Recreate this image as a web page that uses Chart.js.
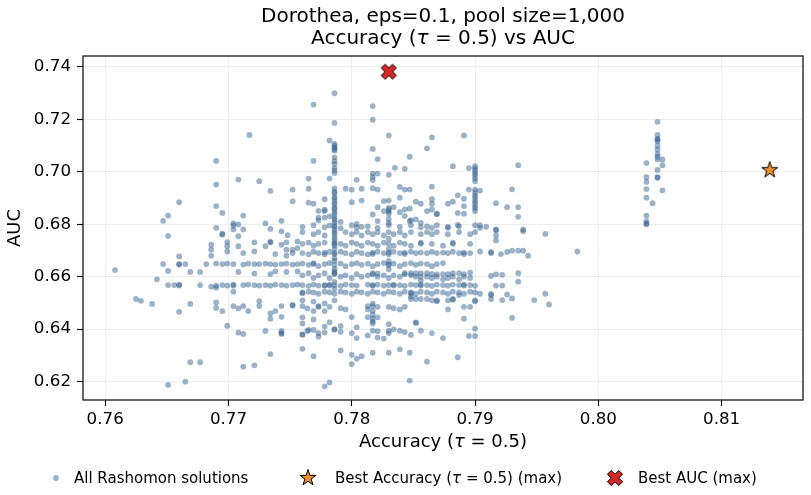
<!DOCTYPE html>
<html>
<head>
<meta charset="utf-8">
<script src="https://cdn.jsdelivr.net/npm/chart.js@4.4.1/dist/chart.umd.min.js"></script>
<style>
  body { margin: 0; background: #fff; }
  canvas { display: block; }
</style>
</head>
<body>
<canvas id="chart" width="811" height="495"></canvas>
<script>
// [accuracy, auc] pairs, grouped by region
const leftSolutions = [
  [0.7717,0.7140],[0.7690,0.7041],[0.7708,0.6970],[0.7725,0.6964],[0.7734,0.6927],[0.7752,0.6932],
  [0.7690,0.6951],[0.7690,0.6869],[0.7660,0.6884],[0.7651,0.6833],[0.7647,0.6813],[0.7695,0.6843],
  [0.7712,0.6833],[0.7752,0.6887],[0.7743,0.6813],[0.7730,0.6803],[0.7704,0.6803],[0.7708,0.6799],
  [0.7704,0.6795],[0.7651,0.6755],[0.7690,0.6786],[0.7695,0.6764],[0.7695,0.6760],[0.7704,0.6780],
  [0.7712,0.6780],[0.7734,0.6782],[0.7743,0.6773],[0.7748,0.6758],
  [0.7686,0.6722],[0.7686,0.6703],[0.7686,0.6680],[0.7699,0.6732],[0.7699,0.6716],[0.7699,0.6696],
  [0.7708,0.6754],[0.7708,0.6716],[0.7712,0.6690],[0.7721,0.6731],[0.7721,0.6696],[0.7730,0.6716],
  [0.7734,0.6731],[0.7734,0.6733],[0.7738,0.6686],[0.7743,0.6722],[0.7747,0.6731],[0.7747,0.6703],
  [0.7747,0.6680],[0.7752,0.6703],[0.7752,0.6690],[0.7756,0.6734],[0.7756,0.6709],[0.7660,0.6677],
  [0.7647,0.6648],[0.7660,0.6648],[0.7660,0.6646],[0.7665,0.6648],[0.7682,0.6648],[0.7690,0.6650],
  [0.7695,0.6648],[0.7699,0.6650],[0.7704,0.6648],[0.7712,0.6646],[0.7716,0.6650],[0.7721,0.6648],
  [0.7725,0.6648],[0.7730,0.6650],[0.7734,0.6648],[0.7738,0.6646],[0.7743,0.6648],[0.7747,0.6650],
  [0.7752,0.6646],[0.7756,0.6648],
  [0.7608,0.6625],[0.7651,0.6622],[0.7669,0.6618],[0.7677,0.6618],[0.7708,0.6618],[0.7721,0.6612],
  [0.7734,0.6610],[0.7738,0.6620],[0.7747,0.6618],[0.7756,0.6620],[0.7642,0.6590],
  [0.7651,0.6568],[0.7656,0.6568],[0.7660,0.6570],[0.7660,0.6566],[0.7677,0.6568],[0.7686,0.6562],
  [0.7690,0.6566],[0.7695,0.6568],[0.7699,0.6566],[0.7704,0.6570],[0.7704,0.6566],[0.7712,0.6568],
  [0.7716,0.6570],[0.7721,0.6568],[0.7725,0.6566],[0.7730,0.6568],[0.7734,0.6566],[0.7738,0.6570],
  [0.7743,0.6568],[0.7747,0.6566],[0.7752,0.6568],[0.7756,0.6570],
  [0.7704,0.6543],[0.7690,0.6558],[0.7625,0.6515],[0.7629,0.6508],[0.7638,0.6496],[0.7669,0.6496],
  [0.7660,0.6466],[0.7690,0.6502],[0.7690,0.6481],[0.7695,0.6469],[0.7704,0.6488],[0.7708,0.6479],
  [0.7712,0.6488],[0.7716,0.6469],[0.7725,0.6507],[0.7725,0.6488],[0.7734,0.6460],[0.7734,0.6440],
  [0.7738,0.6469],[0.7743,0.6488],[0.7743,0.6447],[0.7752,0.6492],[0.7752,0.6490],
  [0.7699,0.6413],[0.7708,0.6387],[0.7712,0.6382],[0.7730,0.6393],[0.7743,0.6393],[0.7743,0.6382],
  [0.7743,0.6385],[0.7734,0.6305],[0.7669,0.6274],[0.7677,0.6274],[0.7712,0.6257],[0.7721,0.6262],
  [0.7651,0.6188],[0.7665,0.6200]
];

const upperSolutions = [
  [0.7786,0.7299],[0.7769,0.7256],[0.7817,0.7250],[0.7817,0.7198],[0.7786,0.7186],[0.7830,0.7138],
  [0.7865,0.7131],[0.7891,0.7138],[0.7782,0.7119],
  [0.7786,0.7106],[0.7786,0.7099],[0.7786,0.7092],[0.7786,0.7086],[0.7786,0.7080],[0.7786,0.7055],
  [0.7786,0.7040],[0.7786,0.7030],[0.7786,0.7015],[0.7786,0.7005],[0.7786,0.6995],
  [0.7817,0.7087],[0.7861,0.7089],[0.7847,0.7057],[0.7821,0.7048],[0.7769,0.7041],
  [0.7835,0.7015],[0.7843,0.7011],[0.7882,0.7021],[0.7895,0.7014],
  [0.7900,0.7021],[0.7900,0.7012],[0.7900,0.7004],[0.7900,0.6994],[0.7900,0.6986],[0.7900,0.6975],
  [0.7900,0.6964],[0.7935,0.7025],
  [0.7817,0.6993],[0.7817,0.6980],[0.7817,0.6968],[0.7821,0.6993],[0.7830,0.6988],[0.7782,0.6974],
  [0.7765,0.6974],[0.7765,0.6935],
  [0.7786,0.6936],[0.7786,0.6924],[0.7786,0.6917],[0.7786,0.6903],[0.7786,0.6896],[0.7786,0.6884],
  [0.7786,0.6876],[0.7786,0.6863],[0.7786,0.6857],[0.7786,0.6845],[0.7786,0.6836],[0.7786,0.6824],
  [0.7786,0.6816],[0.7786,0.6806],
  [0.7795,0.6935],[0.7800,0.6932],[0.7808,0.6935],[0.7817,0.6937],[0.7821,0.6932],[0.7839,0.6942],
  [0.7843,0.6932],[0.7847,0.6932],[0.7865,0.6943],[0.7804,0.6969],
  [0.7895,0.6932],[0.7900,0.6932],[0.7900,0.6921],[0.7900,0.6909],[0.7900,0.6901],[0.7900,0.6889],
  [0.7900,0.6881],[0.7900,0.6869],[0.7900,0.6861],[0.7900,0.6850],[0.7904,0.6928],[0.7930,0.6933],
  [0.7778,0.6895],[0.7778,0.6850],[0.7778,0.6855],[0.7765,0.6882],[0.7769,0.6878],[0.7800,0.6884],
  [0.7808,0.6890],[0.7826,0.6888],[0.7830,0.6890],[0.7830,0.6862],[0.7830,0.6855],[0.7830,0.6848],
  [0.7830,0.6840],[0.7839,0.6901],[0.7847,0.6860],[0.7843,0.6856],[0.7852,0.6886],[0.7856,0.6878],
  [0.7865,0.6895],[0.7865,0.6878],[0.7865,0.6856],[0.7869,0.6840],[0.7869,0.6838],[0.7861,0.6850],
  [0.7878,0.6878],[0.7882,0.6886],[0.7886,0.6910],[0.7891,0.6897],[0.7891,0.6869],[0.7886,0.6843],
  [0.7891,0.6840],[0.7917,0.6880],[0.7926,0.6865],[0.7935,0.6865],[0.7935,0.6828],[0.7821,0.6865],
  [0.7826,0.6850],[0.7817,0.6837],[0.7834,0.6865],[0.7839,0.6846],[0.7843,0.6831],[0.7847,0.6812],
  [0.7852,0.6818],[0.7848,0.6815],[0.7773,0.6851],[0.7773,0.6825],[0.7778,0.6825],[0.7773,0.6814],
  [0.7782,0.6830],[0.7791,0.6809],[0.7804,0.6801],[0.7808,0.6790],[0.7821,0.6812],[0.7830,0.6805],
  [0.7830,0.6820],[0.7856,0.6805],[0.7878,0.6790],[0.7886,0.6797],[0.7904,0.6796],[0.7909,0.6790],
  [0.7917,0.6780],[0.7939,0.6780]
];

const coreSolutions = [
  // ~0.679
  [0.7760,0.6790],[0.7769,0.6796],[0.7778,0.6788],[0.7782,0.6795],[0.7786,0.6790],[0.7791,0.6785],
  [0.7800,0.6796],[0.7804,0.6788],[0.7813,0.6792],[0.7821,0.6786],[0.7830,0.6796],[0.7839,0.6790],
  [0.7848,0.6796],[0.7856,0.6788],[0.7861,0.6792],[0.7865,0.6786],[0.7869,0.6796],[0.7878,0.6786],
  [0.7887,0.6792],[0.7900,0.6796],[0.7904,0.6786],[0.7786,0.6795],[0.7786,0.6780],
  // ~0.6765
  [0.7760,0.6770],[0.7769,0.6762],[0.7773,0.6770],[0.7778,0.6757],[0.7786,0.6770],[0.7786,0.6762],
  [0.7795,0.6770],[0.7800,0.6762],[0.7804,0.6770],[0.7808,0.6757],[0.7813,0.6770],[0.7817,0.6762],
  [0.7821,0.6770],[0.7826,0.6757],[0.7830,0.6770],[0.7834,0.6762],[0.7839,0.6770],[0.7843,0.6757],
  [0.7848,0.6770],[0.7856,0.6762],[0.7861,0.6770],[0.7865,0.6762],[0.7869,0.6770],[0.7878,0.6762],
  [0.7887,0.6770],[0.7896,0.6762],[0.7900,0.6770],[0.7786,0.6750],[0.7786,0.6740],[0.7830,0.6745],
  // ~0.6725
  [0.7760,0.6725],[0.7765,0.6730],[0.7769,0.6718],[0.7773,0.6725],[0.7778,0.6730],[0.7786,0.6725],
  [0.7786,0.6718],[0.7786,0.6730],[0.7791,0.6725],[0.7795,0.6718],[0.7800,0.6730],[0.7804,0.6725],
  [0.7808,0.6718],[0.7813,0.6730],[0.7817,0.6725],[0.7821,0.6718],[0.7826,0.6730],[0.7830,0.6725],
  [0.7834,0.6718],[0.7839,0.6730],[0.7843,0.6725],[0.7848,0.6718],[0.7856,0.6725],[0.7856,0.6730],
  [0.7865,0.6725],[0.7874,0.6718],[0.7882,0.6725],[0.7882,0.6730],[0.7896,0.6725],[0.7786,0.6705],
  [0.7830,0.6705],
  // ~0.669
  [0.7760,0.6690],[0.7765,0.6685],[0.7769,0.6695],[0.7773,0.6690],[0.7778,0.6685],[0.7778,0.6692],
  [0.7782,0.6695],[0.7786,0.6690],[0.7786,0.6686],[0.7791,0.6695],[0.7795,0.6690],[0.7800,0.6685],
  [0.7804,0.6695],[0.7808,0.6690],[0.7813,0.6685],[0.7817,0.6692],[0.7817,0.6686],[0.7821,0.6695],
  [0.7826,0.6690],[0.7830,0.6692],[0.7830,0.6685],[0.7834,0.6695],[0.7839,0.6690],[0.7843,0.6692],
  [0.7843,0.6686],[0.7848,0.6695],[0.7852,0.6690],[0.7856,0.6692],[0.7861,0.6690],[0.7865,0.6695],
  [0.7869,0.6690],[0.7874,0.6692],[0.7878,0.6690],[0.7882,0.6695],[0.7887,0.6690],[0.7891,0.6692],
  [0.7891,0.6686],[0.7896,0.6690],[0.7786,0.6670],[0.7830,0.6660],[0.7786,0.6660],
  // ~0.6648
  [0.7760,0.6650],[0.7765,0.6645],[0.7769,0.6648],[0.7769,0.6652],[0.7773,0.6640],[0.7778,0.6648],
  [0.7782,0.6652],[0.7786,0.6645],[0.7791,0.6650],[0.7795,0.6640],[0.7800,0.6648],[0.7804,0.6652],
  [0.7808,0.6645],[0.7813,0.6650],[0.7817,0.6640],[0.7821,0.6648],[0.7826,0.6652],[0.7830,0.6648],
  [0.7830,0.6644],[0.7834,0.6650],[0.7839,0.6640],[0.7843,0.6648],[0.7848,0.6652],[0.7852,0.6645],
  [0.7856,0.6650],[0.7861,0.6648],[0.7865,0.6640],[0.7869,0.6648],[0.7874,0.6652],[0.7786,0.6630],
  [0.7830,0.6628],[0.7786,0.6620],
  // ~0.660
  [0.7760,0.6605],[0.7765,0.6613],[0.7769,0.6595],[0.7773,0.6605],[0.7778,0.6613],[0.7782,0.6595],
  [0.7786,0.6613],[0.7786,0.6610],[0.7791,0.6600],[0.7795,0.6605],[0.7800,0.6595],[0.7804,0.6610],
  [0.7808,0.6600],[0.7813,0.6605],[0.7817,0.6613],[0.7817,0.6609],[0.7821,0.6612],[0.7821,0.6600],
  [0.7826,0.6605],[0.7830,0.6595],[0.7834,0.6605],[0.7839,0.6600],[0.7843,0.6613],[0.7843,0.6609],
  [0.7848,0.6613],[0.7848,0.6605],[0.7852,0.6613],[0.7852,0.6600],[0.7856,0.6613],[0.7856,0.6600],
  [0.7856,0.6585],[0.7861,0.6613],[0.7861,0.6600],[0.7865,0.6610],[0.7865,0.6595],[0.7869,0.6609],
  [0.7869,0.6600],[0.7874,0.6610],[0.7874,0.6590],[0.7878,0.6610],[0.7878,0.6595],[0.7882,0.6613],
  [0.7882,0.6600],[0.7887,0.6613],[0.7887,0.6590],[0.7891,0.6610],[0.7891,0.6600],[0.7896,0.6615],
  [0.7896,0.6595],[0.7786,0.6580],
  // ~0.6568
  [0.7760,0.6568],[0.7765,0.6565],[0.7769,0.6570],[0.7773,0.6566],[0.7778,0.6568],[0.7778,0.6565],
  [0.7782,0.6570],[0.7782,0.6566],[0.7786,0.6568],[0.7791,0.6565],[0.7795,0.6570],[0.7800,0.6568],
  [0.7804,0.6566],[0.7813,0.6570],[0.7817,0.6568],[0.7817,0.6565],[0.7821,0.6570],[0.7826,0.6566],
  [0.7830,0.6568],[0.7834,0.6570],[0.7834,0.6566],[0.7839,0.6568],[0.7843,0.6565],[0.7848,0.6570],
  [0.7852,0.6568],[0.7856,0.6570],[0.7856,0.6566],[0.7861,0.6568],[0.7865,0.6565],[0.7869,0.6570],
  [0.7874,0.6568],[0.7878,0.6566],[0.7882,0.6570],[0.7887,0.6568],[0.7891,0.6570],[0.7891,0.6566],
  [0.7896,0.6568],[0.7900,0.6565],[0.7786,0.6555],
  // ~0.654
  [0.7760,0.6540],[0.7760,0.6537],[0.7765,0.6543],[0.7769,0.6540],[0.7773,0.6535],[0.7778,0.6543],
  [0.7782,0.6540],[0.7786,0.6535],[0.7791,0.6543],[0.7795,0.6540],[0.7800,0.6535],[0.7804,0.6543],
  [0.7808,0.6540],[0.7813,0.6535],[0.7817,0.6543],[0.7821,0.6540],[0.7826,0.6535],[0.7830,0.6543],
  [0.7834,0.6540],[0.7839,0.6535],[0.7843,0.6543],[0.7848,0.6540],[0.7848,0.6537],[0.7852,0.6535],
  [0.7856,0.6543],[0.7861,0.6540],[0.7865,0.6535],[0.7869,0.6543],[0.7874,0.6540],[0.7878,0.6535],
  [0.7882,0.6543],[0.7887,0.6540],[0.7891,0.6535],[0.7896,0.6543],[0.7900,0.6540],[0.7904,0.6535],
  // ~0.650
  [0.7760,0.6510],[0.7760,0.6488],[0.7769,0.6505],[0.7773,0.6485],[0.7778,0.6498],[0.7782,0.6485],
  [0.7786,0.6510],[0.7791,0.6480],[0.7795,0.6475],[0.7813,0.6488],[0.7813,0.6475],[0.7817,0.6497],
  [0.7817,0.6470],[0.7817,0.6455],[0.7817,0.6488],[0.7817,0.6440],[0.7817,0.6430],[0.7821,0.6485],
  [0.7830,0.6485],[0.7834,0.6480],[0.7839,0.6475],[0.7843,0.6485],[0.7848,0.6525],[0.7848,0.6515],
  [0.7852,0.6515],[0.7856,0.6515],[0.7861,0.6515],[0.7865,0.6510],[0.7869,0.6510],[0.7869,0.6506],
  [0.7878,0.6510],[0.7878,0.6475],[0.7882,0.6515],[0.7882,0.6512],[0.7887,0.6530],[0.7891,0.6485],
  [0.7891,0.6440],[0.7896,0.6485],[0.7900,0.6510],[0.7900,0.6506],
  [0.7764,0.6479],[0.7769,0.6469],[0.7773,0.6488],[0.7778,0.6469],[0.7760,0.6445]
];

const lowerSolutions = [
  [0.7760,0.6422],[0.7769,0.6437],[0.7782,0.6426],[0.7800,0.6446],[0.7804,0.6407],[0.7813,0.6446],
  [0.7817,0.6422],[0.7821,0.6445],[0.7830,0.6419],[0.7852,0.6426],[0.7852,0.6423],
  [0.7760,0.6380],[0.7765,0.6397],[0.7769,0.6397],[0.7773,0.6385],[0.7778,0.6410],[0.7786,0.6400],
  [0.7786,0.6398],[0.7791,0.6412],[0.7791,0.6390],[0.7800,0.6385],[0.7804,0.6366],[0.7813,0.6376],
  [0.7817,0.6394],[0.7821,0.6392],[0.7821,0.6368],[0.7826,0.6364],[0.7830,0.6394],[0.7830,0.6385],
  [0.7834,0.6399],[0.7839,0.6394],[0.7843,0.6389],[0.7848,0.6378],[0.7856,0.6394],[0.7865,0.6385],
  [0.7874,0.6366],[0.7764,0.6393],[0.7773,0.6371],[0.7778,0.6387],[0.7760,0.6379],
  [0.7886,0.6293],[0.7861,0.6276],[0.7847,0.6310],[0.7847,0.6204],[0.7839,0.6323],[0.7830,0.6310],
  [0.7817,0.6310],[0.7808,0.6297],[0.7804,0.6287],[0.7800,0.6302],[0.7800,0.6267],[0.7791,0.6319],
  [0.7769,0.6297],[0.7760,0.6325],[0.7778,0.6182],[0.7782,0.6197],[0.7900,0.6402],[0.7900,0.6374],
  [0.7895,0.6374],[0.7930,0.6443]
];

const rightSolutions = [
  [0.7917,0.6777],[0.7917,0.6757],[0.7917,0.6738],[0.7939,0.6773],[0.7957,0.6763],[0.7935,0.6699],
  [0.7921,0.6686],[0.7926,0.6694],[0.7930,0.6699],[0.7939,0.6699],[0.7943,0.6680],[0.7913,0.6694],
  [0.7913,0.6690],[0.7904,0.6696],[0.7935,0.6613],[0.7935,0.6581],[0.7913,0.6603],[0.7917,0.6609],
  [0.7922,0.6607],[0.7917,0.6566],[0.7922,0.6566],[0.7913,0.6534],[0.7913,0.6530],[0.7913,0.6515],
  [0.7922,0.6511],[0.7926,0.6532],[0.7930,0.6517],[0.7948,0.6511],[0.7957,0.6535],[0.7960,0.6494],
  [0.7983,0.6696]
];

const clusterSolutions = [
  [0.8048,0.7190],[0.8048,0.7140],[0.8048,0.7125],[0.8048,0.7122],[0.8048,0.7116],[0.8048,0.7099],
  [0.8048,0.7084],[0.8048,0.7067],[0.8048,0.7057],[0.8048,0.7047],[0.8052,0.7047],[0.8052,0.7025],
  [0.8048,0.7007],[0.8048,0.6979],[0.8048,0.6977],[0.8052,0.6929],[0.8039,0.7033],[0.8039,0.6979],
  [0.8039,0.6961],[0.8039,0.6934],[0.8039,0.6901],[0.8044,0.6880],[0.8039,0.6833],[0.8039,0.6812],
  [0.8039,0.6803],[0.8039,0.6799]
];

const bestAccuracy = [[0.8139, 0.7006]];
const bestAuc = [[0.7830, 0.7381]];

const accuracyTicks = [0.76, 0.77, 0.78, 0.79, 0.80, 0.81];
const aucTicks = [0.62, 0.64, 0.66, 0.68, 0.70, 0.72, 0.74];

const FONT = "'DejaVu Sans', sans-serif";
const DOT = 'rgba(47,94,142,0.48)';

function toPoints(list) {
  return list.map(([x, y]) => ({ x, y }));
}

function makeStar(size) {
  const c = document.createElement('canvas');
  c.width = c.height = size;
  const g = c.getContext('2d');
  const m = size / 2, ro = size / 2 - 1.5, ri = ro * 0.382;
  g.beginPath();
  for (let i = 0; i < 10; i++) {
    const r = i % 2 ? ri : ro;
    const a = -Math.PI / 2 + i * Math.PI / 5;
    g.lineTo(m + r * Math.cos(a), m + r * Math.sin(a));
  }
  g.closePath();
  g.fillStyle = '#f28e2b';
  g.fill();
  g.lineWidth = 1;
  g.strokeStyle = '#000';
  g.stroke();
  return c;
}

function makeCross(size) {
  const c = document.createElement('canvas');
  c.width = c.height = size;
  const g = c.getContext('2d');
  const L = 8, w = 16 / 6;
  const pts = [[-w,-L],[w,-L],[w,-w],[L,-w],[L,w],[w,w],[w,L],[-w,L],[-w,w],[-L,w],[-L,-w],[-w,-w]];
  const k = Math.SQRT1_2, m = size / 2;
  g.beginPath();
  pts.forEach(([x, y]) => g.lineTo(m + (x - y) * k, m + (x + y) * k));
  g.closePath();
  g.fillStyle = '#d62728';
  g.fill();
  g.lineWidth = 1;
  g.strokeStyle = '#000';
  g.stroke();
  return c;
}

const starImg = makeStar(20);
const crossImg = makeCross(20);

// draws a line of text made of plain / italic pieces
function drawParts(ctx, parts, size, x, y, align) {
  const fonts = parts.map(p => (p[1] ? 'italic ' : '') + size + 'px ' + FONT);
  let total = 0;
  const widths = parts.map((p, i) => {
    ctx.font = fonts[i];
    const w = ctx.measureText(p[0]).width;
    total += w;
    return w;
  });
  let cur = align === 'center' ? x - total / 2 : x;
  ctx.textAlign = 'left';
  parts.forEach((p, i) => {
    ctx.font = fonts[i];
    ctx.fillText(p[0], cur, y);
    cur += widths[i];
  });
}

const accLabel = [['Accuracy (', false], ['\u03c4', true], [' = 0.5)', false]];

const decorations = {
  id: 'decorations',
  afterDraw(chart) {
    const { ctx, chartArea: a } = chart;
    ctx.save();
    ctx.strokeStyle = '#000';
    ctx.lineWidth = 1.2;
    ctx.strokeRect(a.left, a.top, a.right - a.left, a.bottom - a.top);

    ctx.fillStyle = '#000';
    ctx.textBaseline = 'alphabetic';
    const cx = (a.left + a.right) / 2;
    drawParts(ctx, [['Dorothea, eps=0.1, pool size=1,000', false]], 20, cx, 22, 'center');
    drawParts(ctx, accLabel.concat([[' vs AUC', false]]), 20, cx, 44, 'center');

    drawParts(ctx, accLabel, 18, cx, 447, 'center');
    ctx.save();
    ctx.translate(20, (a.top + a.bottom) / 2);
    ctx.rotate(-Math.PI / 2);
    drawParts(ctx, [['AUC', false]], 18, 0, 0, 'center');
    ctx.restore();

    // legend
    const ly = 478;
    ctx.fillStyle = DOT;
    ctx.beginPath();
    ctx.arc(56, ly, 2.9, 0, Math.PI * 2);
    ctx.fill();
    ctx.drawImage(starImg, 308 - 10, ly - 10);
    ctx.drawImage(crossImg, 615 - 10, ly - 10);
    ctx.fillStyle = '#000';
    drawParts(ctx, [['All Rashomon solutions', false]], 15, 74, ly + 5, 'left');
    drawParts(ctx, [['Best Accuracy (', false], ['\u03c4', true], [' = 0.5) (max)', false]], 15, 335, ly + 5, 'left');
    drawParts(ctx, [['Best AUC (max)', false]], 15, 638, ly + 5, 'left');
    ctx.restore();
  }
};

const tickFont = { family: FONT, size: 16.7 };
const gridStyle = { color: '#e8e8e8', lineWidth: 0.8, tickColor: '#000', tickLength: 6, tickWidth: 1.1 };

const allSolutions = [leftSolutions, upperSolutions, coreSolutions, lowerSolutions, rightSolutions, clusterSolutions].flat();

new Chart(document.getElementById('chart').getContext('2d'), {
  type: 'scatter',
  data: {
    datasets: [
      {
        label: 'Best AUC (max)',
        data: toPoints(bestAuc),
        pointStyle: crossImg,
        pointRadius: 8,
        order: 0
      },
      {
        label: 'Best Accuracy (max)',
        data: toPoints(bestAccuracy),
        pointStyle: starImg,
        pointRadius: 8,
        order: 1
      },
      {
        label: 'All Rashomon solutions',
        data: toPoints(allSolutions),
        backgroundColor: DOT,
        borderWidth: 0,
        pointRadius: 2.9,
        pointHoverRadius: 2.9,
        order: 2
      }
    ]
  },
  options: {
    responsive: false,
    animation: false,
    events: [],
    layout: { padding: { top: 56, right: 8, bottom: 65, left: 0 }, autoPadding: false },
    plugins: {
      legend: { display: false },
      title: { display: false },
      tooltip: { enabled: false }
    },
    scales: {
      x: {
        type: 'linear',
        min: 0.7582,
        max: 0.8166,
        afterBuildTicks: s => { s.ticks = accuracyTicks.map(v => ({ value: v })); },
        afterFit: s => { s.height = 30; },
        ticks: { font: tickFont, color: '#000', padding: 4, maxRotation: 0, autoSkip: false, callback: v => v.toFixed(2) },
        grid: gridStyle,
        border: { display: false }
      },
      y: {
        type: 'linear',
        min: 0.6130,
        max: 0.7441,
        afterBuildTicks: s => { s.ticks = aucTicks.map(v => ({ value: v })); },
        afterFit: s => { s.width = 83; },
        ticks: { font: tickFont, color: '#000', padding: 6, autoSkip: false, callback: v => v.toFixed(2) },
        grid: gridStyle,
        border: { display: false }
      }
    }
  },
  plugins: [decorations]
});
</script>
</body>
</html>
